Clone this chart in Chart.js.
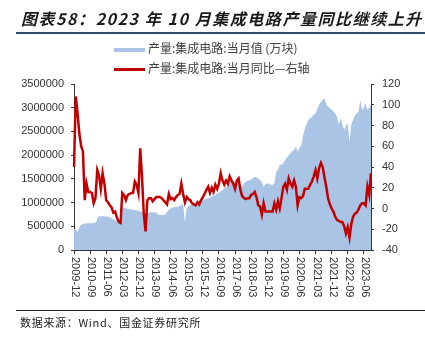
<!DOCTYPE html>
<html>
<head>
<meta charset="utf-8">
<script src="https://cdn.jsdelivr.net/npm/chart.js@4.4.0/dist/chart.umd.min.js"></script>
<style>
  body { margin: 0; width: 425px; height: 337px; position: relative; background: #fff; overflow: hidden; font-family: "Noto Sans CJK SC", "Liberation Sans", sans-serif; }
  #chart { position: absolute; left: 0; top: 0; }
  .title { position: absolute; left: 21px; top: 7px; font-size: 16px; font-weight: bold; font-style: italic; color: #1a1a1a; letter-spacing: 1.55px; white-space: nowrap; line-height: 22px; }
  .rule-top { position: absolute; left: 16px; right: 0; top: 32px; height: 1.5px; background: #2c4a6e; }
  .legend { position: absolute; left: 114px; font-size: 12px; color: #404040; white-space: nowrap; line-height: 16px; }
  .legend i { display: inline-block; width: 31px; vertical-align: middle; margin-right: 3px; }
  .rule-bottom { position: absolute; left: 16px; right: 0; top: 310px; height: 1px; background: #222; }
  .source { position: absolute; left: 20px; top: 314px; font-size: 11px; color: #222; letter-spacing: 0.7px; white-space: nowrap; line-height: 16px; }
</style>
</head>
<body>
<canvas id="chart" width="425" height="337"></canvas>
<div class="title">图表58：2023 年 10 月集成电路产量同比继续上升</div>
<div class="rule-top"></div>
<div class="legend" style="top:40px"><i style="height:4px;background:#aac4e6"></i>产量:集成电路:当月值 (万块)</div>
<div class="legend" style="top:60px"><i style="height:2.5px;background:#c00000"></i>产量:集成电路:当月同比—右轴</div>
<div class="rule-bottom"></div>
<div class="source">数据来源：Wind、国金证券研究所</div>
<script>
// 月份: 2009-12 .. 2023-10
const startYear = 2009, startMonth = 12, monthCount = 167;
const months = [];
for (let k = 0; k < monthCount; k++) {
  const m = startMonth - 1 + k;
  const y = startYear + Math.floor(m / 12);
  months.push(y + '-' + String(m % 12 + 1).padStart(2, '0'));
}
const tickEvery = 9;

// 产量:集成电路:当月值 (万块)
const outputValue = [
  450000, 420000, 385000, 480000, 530000, 550000, 555000, 565000, 565000, 570000,
  560000, 575000, 570000, 650000, 730000, 700000, 720000, 705000, 710000, 700000,
  690000, 670000, 650000, 630000, 600000, 570000, 600000, 900000, 890000, 880000,
  870000, 860000, 860000, 850000, 845000, 840000, 830000, 810000, 800000, 770000,
  775000, 780000, 790000, 800000, 790000, 800000, 780000, 750000, 740000, 745000,
  740000, 750000, 800000, 845000, 870000, 890000, 910000, 900000, 915000, 920000,
  950000, 980000, 590000, 880000, 920000, 950000, 960000, 975000, 970000, 985000,
  1050000, 1055000, 1050000, 1070000, 1085000, 1090000, 1100000, 1130000, 1140000, 1160000,
  1195000, 1200000, 1240000, 1265000, 1300000, 1320000, 1400000, 1470000, 1460000, 1450000,
  1430000, 1440000, 1420000, 1380000, 1335000, 1400000, 1440000, 1460000, 1470000, 1490000,
  1520000, 1545000, 1530000, 1510000, 1470000, 1440000, 1335000, 1390000, 1405000, 1390000,
  1375000, 1370000, 1420000, 1650000, 1700000, 1790000, 1800000, 1830000, 1895000, 1950000,
  2000000, 2040000, 2080000, 2110000, 2180000, 2075000, 2150000, 2210000, 2400000, 2560000,
  2650000, 2740000, 2780000, 2810000, 2850000, 2880000, 2980000, 3060000, 3120000, 3170000,
  3200000, 3080000, 3020000, 2990000, 2960000, 2920000, 2880000, 2810000, 2640000, 2780000,
  2650000, 2530000, 2620000, 2670000, 2280000, 2650000, 2740000, 2840000, 2880000, 2920000,
  3160000, 2950000, 3000000, 3090000, 2950000, 3000000, 3060000
];

// 产量:集成电路:当月同比 (%) — 右轴
const outputYoY = [
  40, 108, 92, 72, 60, 55, 8, 24, 16, 16,
  15, 5, 10, 37, 32, 19, 34, 24, 8, 6,
  3, 1, -4, -3, -9, -13, -14, 15, 13, 8,
  13, 14, 15, 15, 26, 23, 15, 58, 31, -5,
  -22, 8, 10, 10, 7, 9, 11, 11, 11, 10,
  8, 6, 4, 14, 9, 10, 8, 11, 13, 14,
  24, 14, 6, 11, 9, 8, 5, 4, 3, 6,
  4, 8, 11, 14, 18, 21, 15, 20, 16, 23,
  19, 24, 34, 27, 23, 27, 24, 31, 27, 24,
  19, 27, 29, 18, 12, 10, 9, 10, 10, 13,
  14, 16, 11, 3, 2, -6, 5, -3, -3, -3,
  -3, -3, 5, -1, 7, 0, 10, 21, 24, 18,
  29, 24, 21, 27, 21, 3, 11, 10, 12, 19,
  19, 19, 23, 26, 31, 37, 29, 39, 44, 40,
  30, 21, 10, 4, 0, -3, -8, -11, -12, -13,
  -13, -17, -24, -18, -28, -15, -8, -5, -4, -1,
  3, 5, 5, 3, 21, 13, 34
];

const tickFont = { family: '"Liberation Sans", Arial, sans-serif', size: 11 };
const axisColor = '#333';

// x轴标签竖排 (从上往下读)
const xLabelPlugin = {
  id: 'xLabels',
  afterDraw(chart) {
    const sc = chart.scales.x;
    const ctx = chart.ctx;
    ctx.save();
    ctx.font = '11px "Liberation Sans", Arial, sans-serif';
    ctx.fillStyle = axisColor;
    ctx.textAlign = 'left';
    ctx.textBaseline = 'middle';
    months.forEach((m, i) => {
      if (i % tickEvery) return;
      ctx.save();
      ctx.translate(sc.getPixelForValue(i) + 1, sc.top + 7);
      ctx.rotate(Math.PI / 2);
      ctx.fillText(m, 0, 0);
      ctx.restore();
    });
    ctx.restore();
  }
};

new Chart(document.getElementById('chart'), {
  type: 'line',
  data: {
    labels: months,
    datasets: [
      {
        label: '产量:集成电路:当月同比—右轴',
        data: outputYoY,
        yAxisID: 'y1',
        borderColor: '#c00000',
        borderWidth: 2.5,
        pointRadius: 0,
        tension: 0,
        fill: false,
        order: 0
      },
      {
        label: '产量:集成电路:当月值 (万块)',
        data: outputValue,
        yAxisID: 'y',
        borderWidth: 0,
        borderColor: 'rgba(0,0,0,0)',
        backgroundColor: '#aac4e6',
        pointRadius: 0,
        tension: 0,
        fill: 'origin',
        order: 1
      }
    ]
  },
  options: {
    responsive: false,
    animation: false,
    devicePixelRatio: 1,
    layout: { padding: { left: 0, right: 0, top: 84, bottom: 37 } },
    plugins: {
      legend: { display: false },
      title: { display: false },
      tooltip: { enabled: false }
    },
    scales: {
      x: {
        offset: false,
        afterFit: s => { s.height = 50; },
        grid: {
          drawOnChartArea: false,
          tickLength: 4,
          color: c => (c.index % tickEvery === 0 ? axisColor : 'rgba(0,0,0,0)')
        },
        border: { display: true, color: axisColor, width: 1 },
        ticks: { display: false, autoSkip: false }
      },
      y: {
        position: 'left',
        min: 0,
        max: 3500000,
        afterFit: s => { s.width = 74; },
        grid: { drawOnChartArea: false, tickLength: 3, color: axisColor },
        border: { display: true, color: axisColor, width: 1 },
        ticks: { stepSize: 500000, padding: 7, color: axisColor, font: tickFont, callback: v => String(v) }
      },
      y1: {
        position: 'right',
        min: -40,
        max: 120,
        afterFit: s => { s.width = 54; },
        grid: { drawOnChartArea: false, tickLength: 3, color: axisColor },
        border: { display: true, color: axisColor, width: 1 },
        ticks: { stepSize: 20, padding: 8, color: axisColor, font: tickFont }
      }
    }
  },
  plugins: [xLabelPlugin]
});
</script>
</body>
</html>
